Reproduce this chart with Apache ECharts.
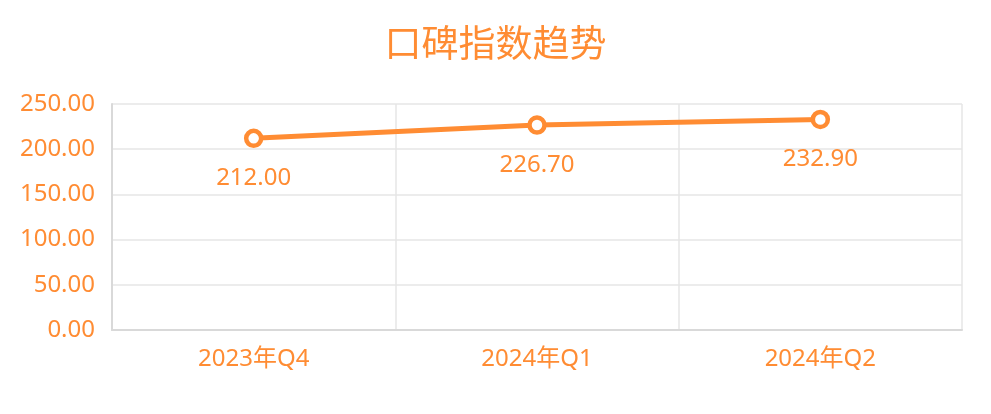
<!DOCTYPE html>
<html><head><meta charset="utf-8">
<script src="https://cdn.jsdelivr.net/npm/echarts@6/dist/echarts.min.js"></script>
<style>html,body{margin:0;padding:0;background:#fff}#c{width:991px;height:414px}</style>
</head><body><div id="c"></div>
<script>
const categories = ['2023年Q4', '2024年Q1', '2024年Q2'];
const values = [212.00, 226.70, 232.90];
const titleText = '口碑指数趋势';
const orange = '#ff8c33';
const font = '"Noto Sans", "Noto Sans CJK SC", sans-serif';
const chart = echarts.init(document.getElementById('c'));
chart.setOption({
  animation: false,
  title: { text: titleText, left: 'center', top: 23, textStyle: { color: orange, fontSize: 37, fontWeight: 'normal', fontFamily: font } },
  grid: { left: 112, right: 29, top: 104, bottom: 84 },
  xAxis: {
    type: 'category', data: categories, boundaryGap: true,
    axisLine: { show: true, lineStyle: { color: '#d9d9d9', width: 2 } },
    axisTick: { show: false },
    axisLabel: { color: orange, fontSize: 24, fontFamily: font, margin: 17 },
    splitLine: { show: true, lineStyle: { color: '#e6e6e6', width: 1.5 } }
  },
  yAxis: {
    type: 'value', min: 0, max: 250, interval: 50,
    axisLine: { show: true, lineStyle: { color: '#d9d9d9', width: 2 } },
    axisTick: { show: false },
    axisLabel: { color: orange, fontSize: 24, fontFamily: font, margin: 17, formatter: v => v.toFixed(2) },
    splitLine: { show: true, lineStyle: { color: '#e6e6e6', width: 1.5 } }
  },
  series: [{
    type: 'line', data: values,
    symbol: 'circle', symbolSize: 15,
    lineStyle: { color: orange, width: 5 },
    itemStyle: { color: '#ffffff', borderWidth: 4.5, borderColor: orange },
    label: { show: true, position: 'bottom', distance: 18, color: orange, fontSize: 24, fontFamily: font, formatter: p => p.value.toFixed(2) }
  }]
});
</script></body></html>
